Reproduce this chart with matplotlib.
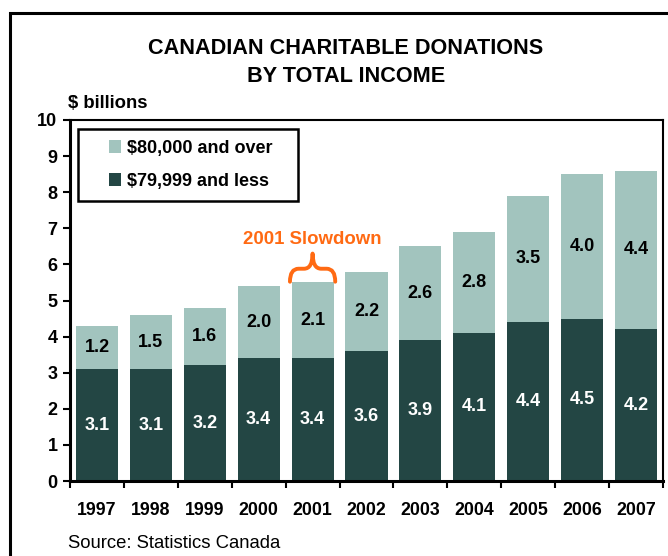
import matplotlib
matplotlib.use('Agg')
import matplotlib.pyplot as plt
from matplotlib.patches import Rectangle, PathPatch
from matplotlib.path import Path
from matplotlib.container import BarContainer
from matplotlib.legend_handler import HandlerPatch, update_from_first_child

plt.rcParams['font.family'] = ['Liberation Sans', 'DejaVu Sans']

years = ["1997", "1998", "1999", "2000", "2001", "2002",
         "2003", "2004", "2005", "2006", "2007"]
under_80k = [3.1, 3.1, 3.2, 3.4, 3.4, 3.6, 3.9, 4.1, 4.4, 4.5, 4.2]
over_80k = [1.2, 1.5, 1.6, 2.0, 2.1, 2.2, 2.6, 2.8, 3.5, 4.0, 4.4]

dark = '#234644'
light = '#A2C4BE'
orange = '#FF6A13'

fig = plt.figure(figsize=(6.68, 5.56), dpi=100)
ax = fig.add_axes([70/668, 1-481/556, 593/668, 361/556])

x = list(range(len(years)))
w = 0.78
b1 = ax.bar(x, under_80k, width=w, color=dark, label='$79,999 and less')
b2 = ax.bar(x, over_80k, width=w, bottom=under_80k, color=light, label='$80,000 and over')

for i in x:
    ax.text(i, under_80k[i]/2, '%.1f' % under_80k[i], ha='center', va='center',
            color='white', fontsize=13, fontweight='bold')
    ax.text(i, under_80k[i] + over_80k[i]/2, '%.1f' % over_80k[i], ha='center',
            va='center', color='black', fontsize=13, fontweight='bold')

ax.set_xlim(-0.5, 10.5)
ax.set_ylim(0, 10)
ax.set_yticks(range(0, 11))
ax.set_yticklabels([str(v) for v in range(0, 11)], fontsize=13, fontweight='bold')
ax.set_xticks([i - 0.5 for i in range(len(years) + 1)])
ax.set_xticklabels([])
ax.set_xticks(x, minor=True)
ax.set_xticklabels(years, minor=True, fontsize=12.8, fontweight='bold')
ax.tick_params(axis='x', which='minor', length=0, pad=15)
ax.tick_params(axis='x', which='major', length=5, width=1.5, direction='out')
ax.tick_params(axis='y', length=5, width=1.5, direction='out', pad=4)
for s in ['left', 'bottom']:
    ax.spines[s].set_linewidth(2.2)
for s in ['top', 'right']:
    ax.spines[s].set_linewidth(1.5)


def square_handle(legend, orig_handle, xdescent, ydescent, width, height, fontsize):
    # small square sitting at the right end of the handle box
    s = height
    return Rectangle((width - s - xdescent, -ydescent), s, s)


leg = ax.legend(handles=[b2, b1], labels=['$80,000 and over   ', '$79,999 and less'],
                loc='upper left', bbox_to_anchor=(0.0135, 0.976),
                prop={'weight': 'bold', 'size': 13}, fancybox=False,
                edgecolor='black', framealpha=1, handlelength=1.78, handleheight=0.7,
                handletextpad=0.3, labelspacing=0.88, borderpad=0.62, borderaxespad=0,
                handler_map={BarContainer: HandlerPatch(patch_func=square_handle,
                                                        update_func=update_from_first_child)})
leg.get_frame().set_linewidth(1.8)

# brace over 2001
xc = 4
x0, x1 = xc - w/2 - 0.03, xc + w/2 + 0.03
ye, ym, yt = 5.52, 5.88, 6.3
r = 0.16
verts = [(x0, ye), (x0, ym), (x0 + r, ym), (xc - r, ym), (xc, ym), (xc, yt),
         (xc, ym), (xc + r, ym), (x1 - r, ym), (x1, ym), (x1, ye)]
codes = [Path.MOVETO, Path.CURVE3, Path.CURVE3, Path.LINETO, Path.CURVE3, Path.CURVE3,
         Path.CURVE3, Path.CURVE3, Path.LINETO, Path.CURVE3, Path.CURVE3]
ax.add_patch(PathPatch(Path(verts, codes), facecolor='none', edgecolor=orange,
                       lw=2.8, capstyle='round', joinstyle='round'))
ax.text(xc, 6.68, '2001 Slowdown', ha='center', va='center', color=orange,
        fontsize=13.4, fontweight='bold')

fig.text(346/668, 1-48/556, 'CANADIAN CHARITABLE DONATIONS', ha='center', va='center',
         fontsize=15.6, fontweight='bold')
fig.text(346/668, 1-76/556, 'BY TOTAL INCOME', ha='center', va='center',
         fontsize=15.6, fontweight='bold')
fig.text(68/668, 1-103/556, '$ billions', ha='left', va='center',
         fontsize=13.3, fontweight='bold')
fig.text(68/668, 1-543/556, 'Source: Statistics Canada', ha='left', va='center',
         fontsize=13.3)

fig.patches.append(Rectangle((10/668, -0.1), 1.0, 1.1 - 12.5/556, transform=fig.transFigure,
                             fill=False, edgecolor='black', lw=2.2))

fig.savefig('out.png', dpi=100)
